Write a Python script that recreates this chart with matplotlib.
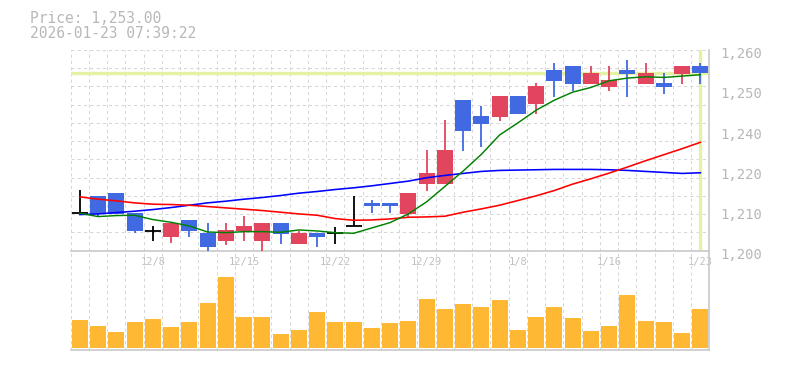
import numpy as np
import matplotlib.pyplot as plt
from matplotlib.transforms import ScaledTranslation

# ---------------------------------------------------------------
# datos
# ---------------------------------------------------------------
dates = ['12/2', '12/3', '12/4', '12/5', '12/8', '12/9', '12/10', '12/11', '12/12',
         '12/15', '12/16', '12/17', '12/18', '12/19', '12/22', '12/23', '12/24', '12/25',
         '12/26', '12/29', '12/30', '1/5', '1/6', '1/7', '1/8', '1/9', '1/13', '1/14',
         '1/15', '1/16', '1/19', '1/20', '1/21', '1/22', '1/23']

opens = [1211.2, 1216.4, 1217.2, 1211.3, 1206.0, 1204.2, 1209.2, 1205.4, 1202.9, 1205.8,
         1203.0, 1208.3, 1202.1, 1205.4, 1205.2, 1207.3, 1214.3, 1214.3, 1211.1, 1220.0,
         1220.0, 1245.1, 1240.3, 1240.1, 1246.3, 1243.9, 1254.0, 1255.2, 1249.8, 1248.9,
         1254.0, 1249.8, 1250.1, 1252.9, 1255.2]
highs = [1218.1, 1216.4, 1217.2, 1211.3, 1207.4, 1208.3, 1209.2, 1208.3, 1208.4, 1210.4,
         1208.3, 1208.3, 1205.8, 1205.4, 1207.2, 1216.4, 1215.2, 1214.3, 1217.2, 1230.1,
         1239.1, 1245.1, 1243.3, 1246.3, 1246.3, 1250.2, 1256.2, 1255.2, 1255.2, 1255.2,
         1257.0, 1256.1, 1253.0, 1255.2, 1256.1]
lows = [1211.2, 1210.2, 1211.1, 1205.2, 1203.0, 1202.2, 1204.2, 1200.0, 1201.7, 1203.0,
        1200.0, 1202.1, 1202.1, 1201.2, 1202.0, 1207.3, 1211.2, 1211.2, 1210.2, 1217.9,
        1220.0, 1229.9, 1231.1, 1238.9, 1241.0, 1241.0, 1245.9, 1247.7, 1249.8, 1247.7,
        1246.0, 1249.8, 1246.9, 1249.8, 1249.8]
closes = [1211.2, 1211.1, 1211.1, 1206.0, 1206.0, 1208.3, 1206.0, 1201.2, 1206.2, 1207.5,
          1208.3, 1205.1, 1205.4, 1204.2, 1205.2, 1207.3, 1213.3, 1213.3, 1217.2, 1223.3,
          1230.1, 1235.9, 1238.0, 1246.3, 1241.0, 1249.3, 1250.7, 1249.8, 1253.1, 1251.0,
          1252.9, 1253.1, 1249.0, 1255.2, 1253.0]

# volumen (miles)
volume = [28, 22, 16, 26, 29, 21, 26, 45, 71, 31, 31, 14, 18, 36, 26, 26, 20, 25,
          27, 49, 39, 44, 41, 48, 18, 31, 41, 30, 17, 22, 53, 27, 26, 15, 39]

# medias moviles
ma_short = [1211.2, 1210.2, 1210.5, 1210.6, 1209.3, 1208.5, 1207.4, 1205.6, 1205.4, 1205.7,
            1205.7, 1205.5, 1206.2, 1205.9, 1205.4, 1205.2, 1206.8, 1208.4, 1211.0, 1214.6,
            1219.2, 1223.8, 1228.8, 1234.6, 1238.2, 1242.0, 1245.0, 1247.4, 1248.8, 1250.8,
            1251.6, 1252.0, 1251.8, 1252.2, 1252.6]
ma_mid = [1216.1, 1215.4, 1214.9, 1214.3, 1213.9, 1213.8, 1213.6, 1213.2, 1212.8, 1212.4,
          1212.0, 1211.5, 1211.0, 1210.6, 1209.6, 1209.1, 1209.2, 1209.5, 1210.0, 1210.1,
          1210.3, 1211.5, 1212.5, 1213.6, 1215.0, 1216.4, 1218.0, 1219.9, 1221.5, 1223.2,
          1225.0, 1226.9, 1228.7, 1230.5, 1232.4]
ma_long = [1210.8, 1211.0, 1211.4, 1211.8, 1212.3, 1212.9, 1213.6, 1214.3, 1214.8, 1215.4,
           1215.9, 1216.5, 1217.2, 1217.7, 1218.3, 1218.8, 1219.4, 1220.1, 1220.8, 1221.8,
           1222.5, 1223.1, 1223.7, 1224.0, 1224.1, 1224.2, 1224.3, 1224.3, 1224.3, 1224.2,
           1224.0, 1223.7, 1223.4, 1223.1, 1223.3]

last_price = 1253.0
title1 = 'Price: 1,253.00'
title2 = '2026-01-23 07:39:22'

# ---------------------------------------------------------------
# figura
# ---------------------------------------------------------------
W, H = 785, 370
fig = plt.figure(figsize=(W / 100, H / 100), dpi=100)
x0, x1 = 70.7, 709.5
ax = fig.add_axes([x0 / W, 1 - 250.7 / H, (x1 - x0) / W, (250.7 - 50) / H])
axv = fig.add_axes([x0 / W, 1 - 350 / H, (x1 - x0) / W, (350 - 250.7) / H], sharex=ax)

n = len(dates)
x = np.arange(n)
o = np.array(opens)
c = np.array(closes)

UP = '#e2465f'
DOWN = '#4169e1'
GRID = '#d6d6d6'
EDGE = '#c8c8c8'
TXT = '#b8b8b8'
HL = '#e3f2a4'
mono = 'DejaVu Sans Mono'

ax.set_xlim(-0.5, n - 0.5)
ax.set_ylim(1200, 1260)

# rejilla cuadrada
for gx in np.arange(-0.5, n - 0.5, 1):
    for a in (ax, axv):
        a.axvline(gx, color=GRID, lw=0.75, ls=(0, (3, 3)), zorder=0)
for gy in np.linspace(1260, 1200, 12)[:-1]:
    ax.axhline(gy, color=GRID, lw=0.75, ls=(0, (3, 3)), zorder=0)

# precio actual
ax.axhline(last_price, color=HL, lw=2.4, zorder=1)
ax.axvline(x[-1], color=HL, lw=2.4, zorder=1)

# velas
w = 0.87
for i in range(n):
    if o[i] == c[i]:
        col = 'black'
        ax.vlines(x[i], lows[i], highs[i], color=col, lw=1.3, zorder=3)
        ax.hlines(o[i], x[i] - w / 2, x[i] + w / 2, color=col, lw=1.3, zorder=3)
        continue
    col = UP if c[i] > o[i] else DOWN
    ax.vlines(x[i], lows[i], highs[i], color=col, lw=1.3, zorder=3)
    ax.bar(x[i], abs(c[i] - o[i]), bottom=min(o[i], c[i]), width=w, color=col,
           linewidth=0, zorder=3)

# medias
ax.plot(x, ma_long, color='#0000ff', lw=1.15, zorder=4)
ax.plot(x, ma_mid, color='#ff0000', lw=1.15, zorder=4)
ax.plot(x, ma_short, color='#008000', lw=1.05, zorder=4)

# ejes
for a in (ax, axv):
    a.spines['top'].set_visible(False)
    a.spines['left'].set_visible(False)
    a.spines['bottom'].set_color(EDGE)
    a.spines['right'].set_color(EDGE)
    a.spines['bottom'].set_linewidth(1.2)
    a.spines['right'].set_linewidth(1.2)
    a.set_facecolor('none')

yt = [1200, 1212, 1224, 1236, 1248, 1260]
ax.set_yticks(yt)
ax.set_yticklabels([f'{round(v, -1):,.0f}' for v in yt])
ax.yaxis.tick_right()
ax.tick_params(axis='y', length=0, pad=7.5, labelsize=10, labelcolor=TXT)
off = ScaledTranslation(0, -2 / 72, fig.dpi_scale_trans)
for lbl in ax.get_yticklabels():
    lbl.set_fontfamily(mono)
    lbl.set_transform(lbl.get_transform() + off)

ticks = list(range(n - 1, -1, -5))[::-1]
ax.set_xticks(ticks)
ax.set_xticklabels([dates[i] for i in ticks])
ax.tick_params(axis='x', length=0, pad=4.5, labelsize=7.5, labelcolor='#c0c0c0')
for lbl in ax.get_xticklabels():
    lbl.set_fontfamily(mono)

# volumen
axv.bar(x, volume, width=w, color='#ffb833', linewidth=0, zorder=2)
axv.set_ylim(-2, 97)
axv.set_yticks([])
axv.tick_params(axis='x', length=0, labelbottom=False)

fig.text(29.5 / W, 1 - 18.3 / H, title1, fontsize=10.5, color=TXT, family=mono, va='center')
fig.text(29.5 / W, 1 - 33.3 / H, title2, fontsize=10.5, color=TXT, family=mono, va='center')

plt.savefig('out.png', dpi=100)
